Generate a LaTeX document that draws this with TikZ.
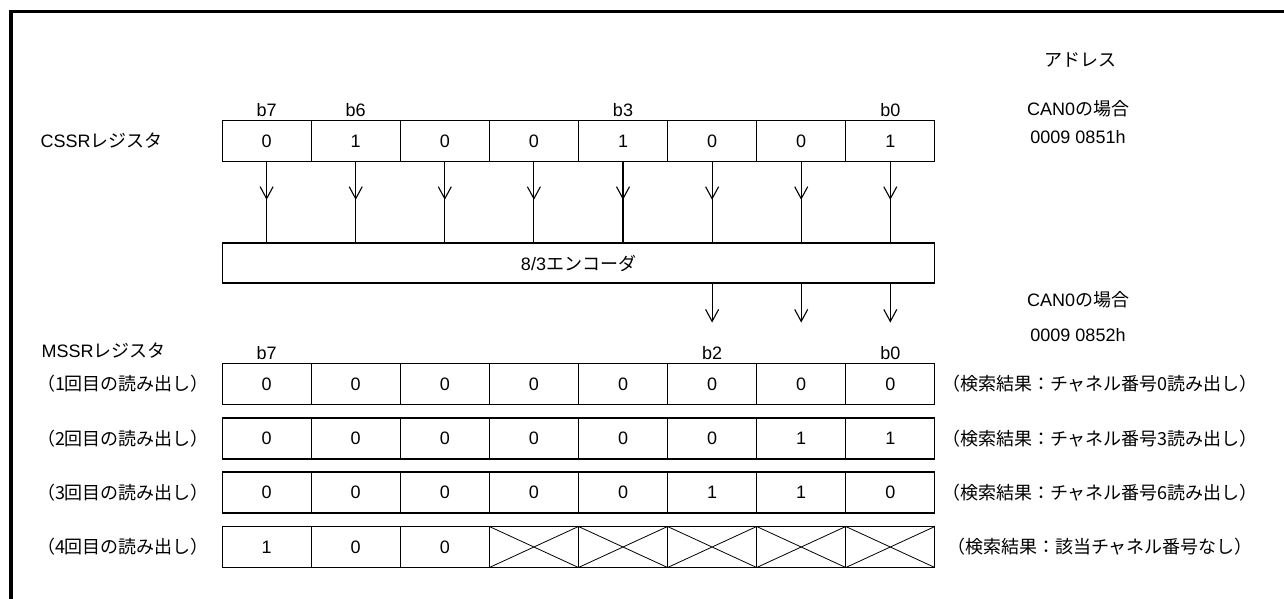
\documentclass[tikz,border=0pt]{standalone}
\usepackage{fontspec}
\setmainfont{Liberation Sans}
\newfontfamily\jp{Noto Sans CJK JP}
\usetikzlibrary{arrows.meta,decorations.markings}

\begin{document}
\begin{tikzpicture}[x=1pt, y=-1pt, font=\fontsize{18}{21}\selectfont]
  \tikzstyle{cell} = [rectangle, draw, line width=1.1pt, minimum width=89.1pt, minimum height=41pt, inner sep=0pt]
  \tikzstyle{crossed} = [cell, path picture={\draw[line width=0.8pt] (path picture bounding box.north west) -- (path picture bounding box.south east) (path picture bounding box.south west) -- (path picture bounding box.north east);}]
  \tikzstyle{bit} = [anchor=south]
  \tikzstyle{arrow} = [line width=1.1pt, -{Straight Barb[length=12pt, width=13pt]}]
  \tikzstyle{midarrow} = [line width=1.1pt, postaction={decorate}, decoration={markings, mark=at position 0.47 with {\arrow{Straight Barb[length=12pt, width=13pt]}}}]

  % Frame
  \useasboundingbox (0,0) rectangle (1284,598);
  \draw[line width=3.8pt] (11,600) |- (1290,11.5);

  % Address
  \node (addr) at (1080,60) {\jp アドレス};
  \node (can1) at (1078,109) {CAN0{\jp の場合}};
  \node (adr1) at (1078,137) {0009 0851h};
  \node (can2) at (1078,300) {CAN0{\jp の場合}};
  \node (adr2) at (1078,335) {0009 0852h};

  % CSSR register
  \node[anchor=west] (cssr) at (37,141) {CSSR{\jp レジスタ}};
  \foreach \v [count=\i from 0] in {0,1,0,0,1,0,0,1}
    \node[cell] (cs\i) at (266.6+89.1*\i,141) {\v};
  \node[bit] (cb7) at (cs0.north) {b7};
  \node[bit] (cb6) at (cs1.north) {b6};
  \node[bit] (cb3) at (cs4.north) {b3};
  \node[bit] (cb0) at (cs7.north) {b0};

  % Encoder
  \node[draw, line width=1.1pt, minimum width=712.8pt, minimum height=40pt] (enc) at (578.5,263) {8/3{\jp エンコーダ}};
  \foreach \i in {0,...,7}
    \draw[midarrow] (cs\i.south) -- (cs\i.south |- enc.north);
  \foreach \i in {5,6,7} {
    \path (enc.south -| cs\i) ++(0,39) coordinate (out\i);
    \draw[arrow] (enc.south -| cs\i) -- (out\i);
  }

  % MSSR register
  \node[anchor=west] (mssr) at (38,351) {MSSR{\jp レジスタ}};
  \foreach \r/\y/\vals/\n in {1/384/{0,0,0,0,0,0,0,0}/0, 2/438.5/{0,0,0,0,0,0,1,1}/3, 3/492.5/{0,0,0,0,0,1,1,0}/6} {
    \node (rd\r) at (123,\y) {\jp （\r 回目の読み出し）};
    \foreach \v [count=\i from 0] in \vals
      \node[cell] (m\r-\i) at (266.6+89.1*\i,\y) {\v};
    \node (res\r) at (1100,\y) {\jp （検索結果：チャネル番号\n 読み出し）};
  }
  \node (rd4) at (123,547) {\jp （4回目の読み出し）};
  \foreach \v [count=\i from 0] in {1,0,0}
    \node[cell] (m4-\i) at (266.6+89.1*\i,547) {\v};
  \foreach \i in {3,...,7}
    \node[crossed] (m4-\i) at (266.6+89.1*\i,547) {};
  \node (res4) at (1100,547) {\jp （検索結果：該当チャネル番号なし）};
  \node[bit] (mb7) at (m1-0.north) {b7};
  \node[bit] (mb2) at (m1-5.north) {b2};
  \node[bit] (mb0) at (m1-7.north) {b0};

\end{tikzpicture}
\end{document}
